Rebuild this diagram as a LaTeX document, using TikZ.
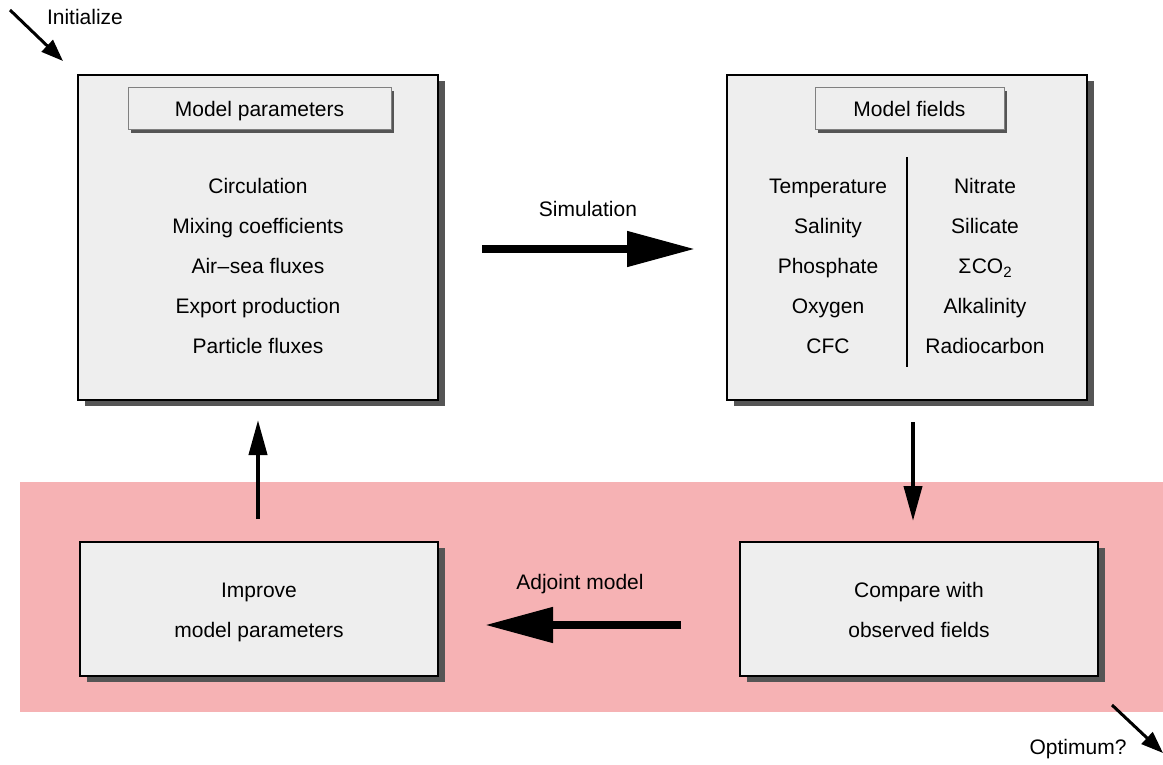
\documentclass[tikz,border=0pt]{standalone}
\usepackage{fontspec}
\setmainfont{Liberation Sans}
\usetikzlibrary{arrows.meta,shadows}
\definecolor{boxfill}{RGB}{238,238,238}
\definecolor{shadecol}{RGB}{85,85,85}
\definecolor{bandcol}{RGB}{246,178,180}
\tikzset{
  txt/.style={font=\fontsize{21}{40}\selectfont, align=center, inner sep=0pt},
  bigbox/.style={draw=black, line width=1.5pt, fill=boxfill, inner sep=0pt,
    drop shadow={shadow xshift=6.5pt, shadow yshift=-6pt, fill=shadecol, opacity=1}},
  headbox/.style={draw=black!50, line width=1pt, fill=boxfill, inner sep=0pt,
    font=\fontsize{21}{24}\selectfont, text height=19pt, text depth=4pt,
    drop shadow={shadow xshift=3pt, shadow yshift=-3pt, fill=shadecol, opacity=1}},
  fatarrow/.style={line width=8pt, -{Triangle[length=68pt,width=34pt]}},
  thinarrow/.style={line width=4pt, -{Triangle[length=35pt,width=18pt]}},
  diagarrow/.style={line width=3pt, -{Triangle[length=22pt,width=16pt]}},
}
\begin{document}
\begin{tikzpicture}[x=1pt,y=-1pt]
\useasboundingbox (0,0) rectangle (1163,765);
% pink band
\fill[bandcol] (20,482) rectangle (1163,712);

% top boxes
\node[bigbox, minimum width=360pt, minimum height=325pt] (params) at (258,237.5) {};
\node[bigbox, minimum width=360pt, minimum height=325pt] (fields) at (907,237.5) {};
\node[headbox, minimum width=263pt, minimum height=42pt] (parhead) at (259.5,109) {Model parameters};
\node[headbox, minimum width=189pt, minimum height=42pt] (fldhead) at (909.5,109) {Model fields};

\node[txt] (parlist) at (258,266) {Circulation\\Mixing coefficients\\Air\kern0.5pt--\kern0.5pt sea fluxes\\Export production\\Particle fluxes};
\node[txt] (fldleft) at (828,266) {Temperature\\Salinity\\Phosphate\\Oxygen\\CFC};
\node[txt] (fldright) at (985,266) {Nitrate\\Silicate\\Σ\kern0.5ptCO\raisebox{-0.35ex}{\fontsize{15}{15}\selectfont 2}\\Alkalinity\\Radiocarbon};
\coordinate (divtop) at (907,157);
\coordinate (divbot) at (907,367);
\draw[line width=1.2pt] (divtop) -- (divbot);

% bottom boxes
\node[bigbox, minimum width=358pt, minimum height=134pt] (improve) at (259,609) {};
\node[bigbox, minimum width=358pt, minimum height=134pt] (compare) at (919,609) {};
\node[txt] (imptxt) at (259,612) {Improve\\model parameters};
\node[txt] (cmptxt) at (919,610) {Compare with\\observed fields};

% arrows
\coordinate (simA) at (482,249);
\coordinate (simB) at (695,249);
\draw[fatarrow] (simA) -- (simB);
\node[txt] (simlab) at (588,209) {Simulation};

\coordinate (adjA) at (681,625);
\coordinate (adjB) at (485,625);
\draw[fatarrow] (adjA) -- (adjB);
\node[txt] (adjlab) at (580,584) {Adjoint model};

\coordinate (dnA) at (913,422);
\coordinate (dnB) at (913,521);
\draw[thinarrow] (dnA) -- (dnB);

\coordinate (upA) at (258,519);
\coordinate (upB) at (258,420);
\draw[thinarrow] (upA) -- (upB);

\coordinate (iniA) at (10,10);
\coordinate (iniB) at (63,61);
\draw[diagarrow] (iniA) -- (iniB);
\node[txt] (inilab) at (85,17) {Initialize};

\coordinate (optA) at (1112,705);
\coordinate (optB) at (1163,753);
\draw[diagarrow] (optA) -- (optB);
\node[txt] (optlab) at (1078,749) {Optimum?};
\end{tikzpicture}
\end{document}
